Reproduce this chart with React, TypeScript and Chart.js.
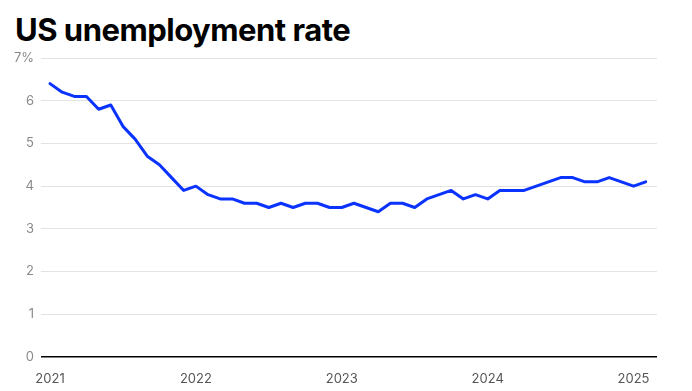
import React, { useEffect, useRef } from "react";
import { Chart, registerables } from "chart.js";

Chart.register(...registerables);

const title = "US unemployment rate";
const yearLabels = ["2021", "2022", "2023", "2024", "2025"];
const yearTickIndex = [0, 12, 24, 36, 48];
const unemploymentRate = [
  6.4, 6.2, 6.1, 6.1, 5.8, 5.9, 5.4, 5.1, 4.7, 4.5, 4.2, 3.9,
  4.0, 3.8, 3.7, 3.7, 3.6, 3.6, 3.5, 3.6, 3.5, 3.6, 3.6, 3.5,
  3.5, 3.6, 3.5, 3.4, 3.6, 3.6, 3.5, 3.7, 3.8, 3.9, 3.7, 3.8,
  3.7, 3.9, 3.9, 3.9, 4.0, 4.1, 4.2, 4.2, 4.1, 4.1, 4.2, 4.1,
  4.0, 4.1,
];
const yTicks = [0, 1, 2, 3, 4, 5, 6, 7];

export default function App() {
  const ref = useRef<HTMLCanvasElement>(null);
  useEffect(() => {
    document.body.style.margin = "0";
    const points = unemploymentRate.map((v, i) => ({ x: i, y: v }));
    const chart = new Chart(ref.current!, {
      type: "line",
      data: {
        datasets: [
          {
            data: points,
            borderColor: "#0a33ff",
            borderWidth: 3,
            pointRadius: 0,
            tension: 0,
            borderJoinStyle: "round",
            borderCapStyle: "round",
          },
        ],
      },
      options: {
        animation: false,
        responsive: false,
        maintainAspectRatio: false,
        layout: { padding: { top: 58, right: 35, left: 0, bottom: 0 } },
        plugins: { legend: { display: false }, tooltip: { enabled: false } },
        scales: {
          x: {
            type: "linear",
            min: -0.74,
            max: 49.93,
            grid: { display: false },
            border: { display: false },
            afterBuildTicks: (s: any) => {
              s.ticks = yearTickIndex.map((v) => ({ value: v }));
            },
            afterFit: (s: any) => {
              s.height = 34;
            },
            ticks: {
              autoSkip: false,
              maxRotation: 0,
              padding: 6,
              color: "#555",
              font: { family: "Inter", size: 13 },
              callback: (v: any) => {
                const idx = yearTickIndex.indexOf(Number(v));
                return idx >= 0 ? yearLabels[idx] : "";
              },
            },
          },
          y: {
            min: 0,
            max: 7,
            border: { display: false },
            afterBuildTicks: (s: any) => {
              s.ticks = yTicks.map((v) => ({ value: v }));
            },
            afterFit: (s: any) => {
              s.width = 41;
            },
            grid: {
              drawTicks: false,
              color: (c: any) => (c.tick && c.tick.value === 0 ? "#000" : "#e3e3e3"),
              lineWidth: (c: any) => (c.tick && c.tick.value === 0 ? 1.5 : 1),
            },
            ticks: {
              padding: 7,
              color: "#8a8a8a",
              font: { family: "Inter", size: 13 },
              callback: (v: any) => (Number(v) === 7 ? "7%" : String(v)),
            },
          },
        },
      },
    });
    return () => chart.destroy();
  }, []);
  return (
    <div style={{ position: "relative", width: 692, height: 391, background: "#fff" }}>
      <div
        style={{
          position: "absolute",
          left: 15,
          top: 12,
          fontFamily: "Inter",
          fontWeight: 700,
          fontSize: 31,
          letterSpacing: -0.5,
          color: "#000",
          lineHeight: "36px",
          whiteSpace: "nowrap",
        }}
      >
        {title}
      </div>
      <canvas ref={ref} width={692} height={391} style={{ position: "absolute", left: 0, top: 0 }} />
    </div>
  );
}
